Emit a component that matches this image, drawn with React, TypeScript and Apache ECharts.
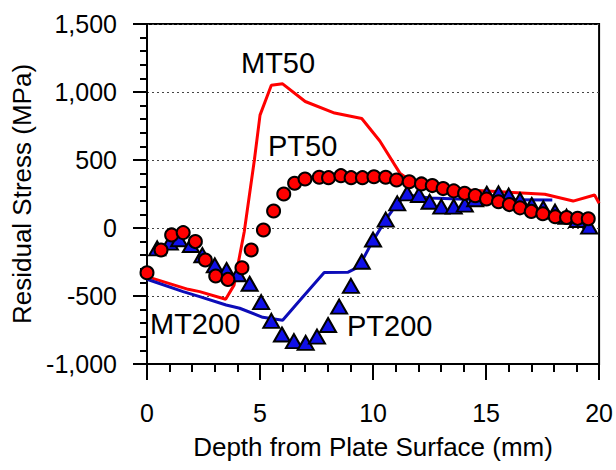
import React, { useEffect, useRef } from "react";
import * as echarts from "echarts";

const pt50X = [0, 0.62, 1.09, 1.6, 2.14, 2.58, 3.04, 3.58, 4.2, 4.61, 5.15, 5.6, 6.05, 6.53, 6.99, 7.62, 8.03, 8.58, 9.03, 9.53, 10.04, 10.56, 11.04, 11.6, 12.14, 12.62, 13.1, 13.57, 14.05, 14.52, 15.02, 15.55, 16.03, 16.5, 17.0, 17.51, 18.06, 18.56, 19.05, 19.52];
const pt50Y = [-329, -162, -51, -34, -100, -235, -353, -378, -292, -162, -15, 125, 250, 329, 360, 373, 370, 385, 370, 370, 377, 373, 353, 340, 324, 312, 290, 273, 255, 238, 213, 193, 172, 148, 122, 105, 83, 77, 71, 68];

const pt200X = [0.45, 1.01, 1.42, 1.94, 2.45, 3.0, 3.52, 4.02, 4.54, 5.05, 5.5, 5.97, 6.5, 7.02, 7.52, 8.01, 8.5, 9.02, 9.5, 10.0, 10.56, 11.07, 11.51, 12.03, 12.5, 13.02, 13.57, 14.06, 14.52, 15.03, 15.55, 16.0, 16.5, 17.02, 17.53, 18.05, 18.56, 19.04, 19.56];
const pt200Y = [-150, -108, -83, -125, -200, -275, -309, -340, -410, -545, -683, -783, -832, -845, -799, -713, -578, -426, -248, -85, 62, 181, 255, 243, 193, 157, 157, 172, 211, 252, 255, 238, 206, 169, 145, 120, 83, 59, 10];

const mt50X = [0, 1.82, 2.33, 3.48, 3.85, 4.3, 4.75, 5.0, 5.5, 6.0, 7.0, 8.3, 9.5, 10.3, 11.2, 11.6, 14.2, 17.6, 18.85, 19.8, 20.0];
const mt50Y = [-358, -451, -468, -524, -420, -30, 500, 830, 1050, 1060, 930, 845, 805, 640, 400, 355, 280, 248, 198, 243, 182];

const mt200X = [0, 1.6, 2.33, 3.5, 4.1, 5.12, 6.0, 6.9, 7.84, 8.9, 9.38, 9.97, 10.56, 11.07, 11.32, 11.6, 12.5, 14.4, 17.93];
const mt200Y = [-377, -468, -505, -566, -590, -657, -678, -505, -328, -325, -284, -100, 59, 181, 218, 240, 220, 210, 206];

const xTicks = { min: 0, max: 20, interval: 5 };
const yTicks = { min: -1000, max: 1500, interval: 500 };

const labels = [
  { text: "MT50", x: 241, y: 63 },
  { text: "PT50", x: 268, y: 146 },
  { text: "MT200", x: 150, y: 324 },
  { text: "PT200", x: 347, y: 326 },
];

const zip = (xs: number[], ys: number[]) => xs.map((x, i) => [x, ys[i]]);

const FONT = "'Liberation Sans', Arial, sans-serif";

export default function App() {
  const ref = useRef<HTMLDivElement>(null);
  useEffect(() => {
    if (!ref.current) return;
    const chart = echarts.init(ref.current, undefined, { renderer: "svg" });
    chart.setOption({
      animation: false,
      backgroundColor: "#ffffff",
      textStyle: { fontFamily: FONT },
      grid: {
        left: 147,
        top: 24,
        width: 454,
        height: 340,
        show: true,
        borderColor: "#000",
        borderWidth: 2,
      },
      xAxis: {
        type: "value",
        min: xTicks.min,
        max: xTicks.max,
        interval: xTicks.interval,
        name: "Depth from Plate Surface (mm)",
        nameLocation: "middle",
        nameGap: 70,
        nameTextStyle: { fontSize: 26, color: "#000", fontFamily: FONT },
        axisLine: { show: true, onZero: false, lineStyle: { color: "#000", width: 2 } },
        axisTick: { show: true, inside: false, length: 16, lineStyle: { color: "#000", width: 2 } },
        minorTick: { show: true, splitNumber: 5, length: 8, lineStyle: { color: "#000", width: 2 } },
        axisLabel: { fontSize: 25, color: "#000", margin: 36, fontFamily: FONT },
        splitLine: { show: false },
      },
      yAxis: {
        type: "value",
        min: yTicks.min,
        max: yTicks.max,
        interval: yTicks.interval,
        name: "Residual Stress (MPa)",
        nameLocation: "middle",
        nameGap: 108,
        nameTextStyle: { fontSize: 26, color: "#000", fontFamily: FONT },
        axisLine: { show: true, onZero: false, lineStyle: { color: "#000", width: 2 } },
        axisTick: { show: true, inside: false, length: 14, lineStyle: { color: "#000", width: 2 } },
        minorTick: { show: true, splitNumber: 5, length: 7, lineStyle: { color: "#000", width: 2 } },
        axisLabel: {
          fontSize: 25,
          color: "#000",
          margin: 30,
          fontFamily: FONT,
          formatter: (v: number) => v.toLocaleString("en-US"),
        },
        splitLine: { show: true, lineStyle: { color: "#444", width: 1, type: [2, 3] } },
      },
      series: [
        {
          name: "MT50",
          type: "line",
          data: zip(mt50X, mt50Y),
          showSymbol: false,
          symbol: "none",
          lineStyle: { color: "#ff0000", width: 3 },
          z: 2,
        },
        {
          name: "MT200",
          type: "line",
          data: zip(mt200X, mt200Y),
          showSymbol: false,
          symbol: "none",
          lineStyle: { color: "#0c0cb8", width: 3 },
          z: 2,
        },
        {
          name: "PT200",
          type: "scatter",
          data: zip(pt200X, pt200Y),
          symbol: "triangle",
          symbolSize: [16, 14],
          itemStyle: { color: "#1010e8", borderColor: "#000", borderWidth: 2, opacity: 1 },
          clip: false,
          z: 3,
        },
        {
          name: "PT50",
          type: "scatter",
          data: zip(pt50X, pt50Y),
          symbol: "circle",
          symbolSize: 13,
          itemStyle: { color: "#ff0000", borderColor: "#000", borderWidth: 2, opacity: 1 },
          clip: false,
          z: 4,
        },
      ],
      graphic: labels.map((l) => ({
        type: "text",
        x: l.x,
        y: l.y,
        z: 10,
        style: {
          text: l.text,
          fontSize: 29,
          fontFamily: FONT,
          fill: "#000",
          textAlign: "left",
          textVerticalAlign: "middle",
        },
      })),
    });
    return () => chart.dispose();
  }, []);
  return (
    <div
      ref={ref}
      style={{ position: "fixed", left: 0, top: 0, width: 616, height: 470 }}
    />
  );
}
